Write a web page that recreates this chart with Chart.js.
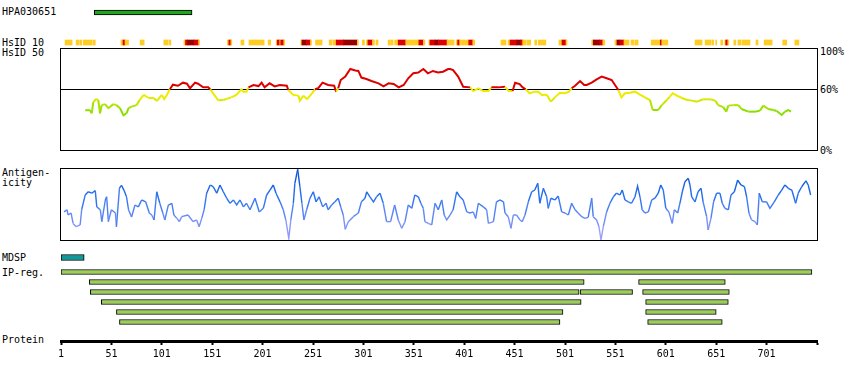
<!DOCTYPE html>
<html>
<head>
<meta charset="utf-8">
<script src="https://cdn.jsdelivr.net/npm/chart.js@4.4.1/dist/chart.umd.min.js"></script>
<style>
  html, body { margin: 0; padding: 0; background: #fff; }
  #wrap { position: relative; width: 850px; height: 380px; overflow: hidden; }
  #wrap canvas { position: absolute; left: 0; }
  .lbl { position: absolute; font: 10px "DejaVu Sans Mono", monospace; line-height: 12px; color: #000; white-space: pre; }
</style>
</head>
<body>
<div id="wrap"></div>
<script>
// residue axis
const RES_MIN = 1;
const RES_MAX = 751;
const tickVals = [1, 51, 101, 151, 201, 251, 301, 351, 401, 451, 501, 551, 601, 651, 701, 751];
const tickLabels = ['1', '51', '101', '151', '201', '251', '301', '351', '401', '451', '501', '551', '601', '651', '701', ''];

// antigen / signal peptide / InterPro regions (residue ranges)
const hpaRange = [34, 131];
const mdspRange = [1, 24];
const ipRows = ['r1', 'r2', 'r3', 'r4', 'r5', 'r6'];
const ipSegA = [[1, 746], [29, 520], [30, 515], [41, 517], [56, 499], [59, 496]];
const ipSegB = [null, null, [516, 568], null, null, null];
const ipSegC = [null, [574, 660], [578, 664], [581, 663], [581, 651], [583, 657]];

// HsID 10 strip: start, end, level (0 yellow, 1 red, 2 dark red)
const hsidStart = [5, 16, 19.5, 23, 33, 60.5, 62.5, 64.5, 79.5, 103, 108, 123, 124.5, 126.5, 133, 137.5,
  166, 167.5, 169.5, 179.5, 187.5, 206.5, 214.5, 215.5, 218, 219, 222, 239, 240, 244.5, 248.5, 253.5,
  267, 271, 274, 281.5, 295, 300, 304, 305.5, 310, 313.5, 325.5, 328, 332, 335.5, 343, 356, 360.5,
  366, 367, 372, 375.5, 384, 393, 394.5, 396.5, 405.5, 409.5, 437.5, 444.5, 446.5, 453, 457, 459, 463.5,
  471, 474.5, 495, 498, 502, 527.5, 529, 535.5, 538.5, 550.5, 552.5, 555.5, 559.5, 566.5, 570.5,
  586.5, 595.5, 597, 630, 640, 647, 650.5, 655.5, 659.5, 660.5, 662.5, 668.5, 672.5, 676.5, 690.5,
  698.5, 717, 729];
const hsidEnd = [12, 18.5, 21.5, 32, 35, 62.5, 64.5, 68, 83.5, 107, 110, 124.5, 126.5, 133, 137.5, 138.5,
  167.5, 169.5, 170.5, 182.5, 202.5, 209, 215.5, 218, 219, 222, 223, 240, 244.5, 248.5, 249.5, 260,
  270, 274, 281.5, 295, 296, 302, 305.5, 310, 312, 315.5, 327.5, 330.5, 335.5, 343, 356, 360.5, 362,
  367, 372, 375.5, 384, 391, 394.5, 396.5, 405.5, 409.5, 411.5, 442.5, 446.5, 453, 457, 459, 462.5, 467,
  473, 482, 498, 502, 503, 529, 535.5, 538.5, 540.5, 552.5, 555.5, 559.5, 564.5, 569.5, 573.5,
  595.5, 597, 603, 637, 646, 648.5, 651.5, 657.5, 660.5, 662.5, 663.5, 670.5, 675.5, 684.5, 692.5,
  706.5, 721, 733];
const hsidLevel = [0, 0, 0, 0, 0, 0, 1, 0, 0, 0, 0, 0, 1, 2, 1, 0,
  0, 1, 0, 0, 0, 0, 0, 1, 0, 1, 0, 0, 2, 1, 0, 0,
  0, 0, 1, 2, 0, 0, 0, 1, 0, 0, 0, 0, 0, 1, 0, 1, 0,
  0, 1, 2, 1, 0, 0, 1, 0, 1, 0, 0, 0, 1, 2, 1, 0, 0,
  0, 0, 0, 1, 0, 0, 2, 1, 0, 0, 2, 1, 0, 0, 0,
  0, 1, 0, 0, 0, 0, 0, 0, 0, 1, 0, 0, 0, 0, 0,
  0, 0, 0];
const hsidColors = ['#ffcc22', '#dd0000', '#990000'];

// HsID 50 conservation, [residue, percent]
const consPoints = [[25, 39], [30, 39], [31.5, 36], [33, 47], [36, 50], [38, 49], [39.7, 36], [41.4, 44],
  [44.7, 45], [48, 41], [53, 45], [56, 44], [59.5, 41], [63, 34], [66, 36], [68, 41], [71, 42.5], [76, 44],
  [79, 49], [83, 54], [88, 51], [93, 51], [96, 48], [101, 54], [103.5, 50], [106, 54], [109, 59.5], [112, 64],
  [117, 63], [122, 66], [126, 65], [129, 60.5], [134, 66], [137, 65], [142, 61.5], [147, 61.5], [149, 59.5],
  [152, 55.5], [157, 48.7], [162, 49], [165, 50], [170, 51.6], [175, 54], [180, 59.5], [182, 57], [185, 57],
  [187, 61.4], [192, 63.7], [197, 62.7], [200, 66], [203, 61.4], [208, 65.4], [213, 62.4], [218, 63.7],
  [225, 63], [226.5, 58.8], [231.5, 54], [236.5, 53.3], [238, 48.4], [241.5, 53.3], [245, 49.7], [250, 55.6],
  [253, 59.5], [256, 60.5], [260.5, 66], [266, 63.7], [272, 63], [274, 57], [276, 60.5], [278.5, 68.6],
  [283, 72], [288, 79.4], [293, 78], [296, 77.5], [299, 71], [304, 69.6], [309, 67.6], [316, 65.4],
  [321, 62.4], [326, 65.4], [331, 64.7], [336, 61.4], [341, 63.7], [345.5, 70.3], [350.5, 75.2], [355.5, 76],
  [360.5, 79.4], [365, 75.2], [370, 77.5], [375, 76], [380, 76.8], [385, 79.4], [387, 79.4], [390, 78.4],
  [395, 72], [400, 62], [407, 61.4], [410, 57.8], [415, 60.5], [420, 57.8], [425, 57.8], [428, 61.4],
  [435, 61.4], [441.5, 62], [445, 57.8], [449, 57.8], [451.5, 66], [456, 64.7], [459, 61.4], [462, 59.5],
  [466, 55.6], [471, 57.2], [474.5, 57.2], [478, 54], [483, 54.2], [487, 47.4], [491, 51.6], [496, 56.2],
  [501, 55.6], [505, 57.2], [507.6, 60.5], [511, 63], [516, 67.6], [520, 63.7], [522.5, 63.7], [527.5, 66],
  [532.4, 69.3], [537.4, 72], [542.3, 70.3], [547.3, 68.6], [550.6, 63.7], [554, 58.8], [557, 51.6],
  [560.5, 55.6], [565.5, 56.2], [570.4, 57.2], [575.4, 54.2], [580.3, 51.6], [585.3, 49], [588, 39.2],
  [593.5, 39.2], [597, 44], [602, 49], [605, 52.3], [608, 55.6], [612, 53.3], [617, 51], [622, 49],
  [627, 48.4], [632, 47.4], [638, 49.7], [645, 49.7], [650, 48.4], [653, 44], [658, 42], [661, 37.6],
  [663, 43.5], [668, 44], [673, 44], [676, 40.2], [683, 37.6], [689.5, 37.6], [694.4, 38.6], [697.7, 43.5],
  [702.6, 40.2], [707.6, 39.2], [711, 38.2], [716, 34.3], [719.2, 37.6], [722.5, 39.2], [725.2, 37.6]];

// Antigenicity, [residue, relative score 0-100]
const antigenPoints = [[4, 39], [7, 42], [8, 35], [11, 37.5], [13, 23], [16, 18.5], [20, 21], [21.5, 42],
  [25, 62.5], [28, 67], [31.5, 65], [35, 68.5], [36.5, 46], [40, 42], [41.5, 25.5], [45, 55.6], [46.3, 60],
  [48, 25.5], [51, 42], [55, 37.5], [56, 18.5], [59, 72], [61, 76], [63.5, 69], [66, 60], [68, 42], [71, 32],
  [74.4, 48.6], [77.7, 46], [81, 55.6], [85, 53], [88.6, 37.5], [91, 34.7], [93.3, 27.8], [96, 67], [99, 51],
  [102, 37.5], [104, 27.8], [107.5, 48.6], [111, 51], [113, 34.7], [116, 30], [118.4, 25.5], [120.7, 32.4],
  [127, 34.7], [132, 25.5], [135.6, 27.8], [138, 18.5], [140.6, 30], [143, 42], [145.5, 65], [149, 76.4],
  [152, 74], [155.5, 65], [158.7, 76.4], [162, 67], [165.4, 58], [168.7, 51], [172, 55.6], [175.3, 48.6],
  [178.6, 55.6], [182, 46], [185, 51], [188.5, 42], [193.5, 58], [197.7, 39], [201.7, 44], [205, 62.5],
  [208.3, 69.4], [211.6, 76.4], [214.3, 65], [218.3, 53], [221.5, 42], [224, 28], [227, 2.3], [229, 28],
  [231.5, 51], [233, 78.7], [235.8, 98], [238, 74], [240, 51], [242, 28], [244.7, 42], [248, 58], [251.3, 67],
  [254, 53], [257, 60], [260.6, 46], [264, 51], [266, 42], [269.5, 48.6], [272.8, 53], [276, 58], [278.5, 46],
  [281, 34.7], [283, 14.8], [286, 25.5], [291, 32.4], [296, 37.5], [299, 53], [302.6, 58], [304.3, 67],
  [307.5, 60], [311, 53], [314, 60], [317.5, 65], [320.7, 51], [324, 25.5], [328, 25.5], [332, 48.6],
  [335.6, 27.8], [339, 16.2], [342.3, 25.5], [345.5, 48.6], [349, 44], [352, 62.5], [355.5, 60], [358, 51],
  [360.4, 44], [362, 25.5], [365.4, 23], [368.8, 21], [372, 51], [375.3, 42], [378.7, 55.6], [381.2, 34.7],
  [383.6, 27.8], [387, 34.7], [390, 42], [393.5, 67], [396.8, 60], [400, 55.6], [403.5, 39], [406.7, 37.5],
  [410, 39], [412.4, 30], [415, 51], [420, 46], [423.3, 42], [425, 23], [430, 25.5], [433, 53], [436.5, 55.6],
  [440, 53], [441.5, 37.5], [444.7, 32.4], [447.4, 16.2], [449.7, 34.7], [453, 34.7], [456.3, 27.8],
  [458.6, 25.5], [461.3, 34.7], [464.6, 53], [468, 67], [471, 69.4], [474, 78.7], [476, 51], [479.5, 71.8],
  [482.8, 60], [484.4, 44], [487, 58], [491, 55.6], [494.3, 61], [497.7, 39], [501, 37.5], [504.3, 34.7],
  [507.6, 51], [511, 42], [514, 37.5], [517.6, 32.4], [520.8, 30], [524, 31.5], [527.5, 58], [529, 32.4],
  [532.4, 27.8], [534.7, 18.5], [536.7, 0], [539, 18.5], [542.3, 39], [545.6, 51], [549, 60], [552, 65],
  [555.5, 62.5], [557.8, 69.4], [560.5, 55.6], [563.8, 53], [567, 51], [570.4, 60], [573, 75], [575.4, 60],
  [577.6, 42], [580.3, 37.5], [583.7, 39], [587, 55.6], [590.3, 58], [593.5, 65], [596, 76.4], [598.5, 69.4],
  [601, 44], [604, 39], [607.4, 23], [609.4, 42], [612.8, 37.5], [615, 51], [617.4, 67], [620, 81],
  [623.3, 85.6], [625, 76.4], [626.7, 60], [630, 53], [633, 67], [636, 71.8], [638, 53], [641.5, 32.4],
  [643, 13.9], [645.8, 30], [648.4, 53], [651.4, 65], [654.7, 65], [657, 51], [659.7, 44], [663, 42],
  [665.7, 62.5], [669, 67], [672.3, 83.3], [675.6, 76.4], [679, 74], [681.2, 60], [683.5, 37.5], [686, 28],
  [689.5, 25.5], [691.8, 21], [693.7, 65], [696.7, 53], [701, 53], [704.3, 44], [708.6, 53], [712.6, 62.5],
  [716, 69.4], [719.2, 76.4], [722.5, 71.8], [726, 69.4], [729.8, 51], [732.4, 65], [735.8, 74], [740, 82],
  [742.3, 76.4], [744.7, 62.5]];

// left / right labels
const textLabels = [
  ['HPA030651', 2, 12.3], ['HsID 10', 2, 42.7], ['HsID 50', 2, 52.7],
  ['Antigen-', 2, 172.7], ['icity', 2, 182.5], ['MDSP', 2, 257.5],
  ['IP-reg.', 2, 272.7], ['Protein', 2, 339.5],
  ['100%', 820, 52], ['60%', 820, 90], ['0%', 820, 150.5]
];

const FONT = '"DejaVu Sans Mono", monospace';
const wrap = document.getElementById('wrap');

textLabels.forEach(function (t) {
  const d = document.createElement('div');
  d.className = 'lbl';
  d.textContent = t[0];
  d.style.left = t[1] + 'px';
  d.style.top = (t[2] - 6) + 'px';
  wrap.appendChild(d);
});

function addCanvas(top, height) {
  const c = document.createElement('canvas');
  c.width = 850;
  c.height = height;
  c.style.top = top + 'px';
  c.style.width = '850px';
  c.style.height = height + 'px';
  wrap.appendChild(c);
  return c;
}

function pad(t, b) {
  return { left: 61, right: 33, top: t, bottom: b };
}

const xHidden = { type: 'linear', min: RES_MIN, max: RES_MAX, display: false };

function mix(a, b, t) {
  return 'rgb(' + a.map(function (v, i) { return Math.round(v + (b[i] - v) * t); }).join(',') + ')';
}

function consColor(v) {
  if (v >= 60) return '#dd0000';
  const t = Math.max(0, Math.min(1, (52 - v) / 14));
  return mix([236, 236, 0], [136, 222, 0], t);
}

const AG_STOPS = [[0, [182, 166, 255]], [30, [108, 140, 246]], [60, [36, 112, 240]], [100, [10, 78, 206]]];
function agColor(v) {
  for (let i = 1; i < AG_STOPS.length; i++) {
    if (v <= AG_STOPS[i][0]) {
      const a = AG_STOPS[i - 1], b = AG_STOPS[i];
      return mix(a[1], b[1], (v - a[0]) / (b[0] - a[0]));
    }
  }
  return mix(AG_STOPS[3][1], AG_STOPS[3][1], 0);
}

const framePlugin = {
  id: 'frame',
  beforeDatasetsDraw: function (chart, args, opts) {
    const ctx = chart.ctx, a = chart.chartArea;
    ctx.save();
    ctx.strokeStyle = '#000';
    ctx.lineWidth = 1;
    ctx.strokeRect(a.left - 0.5, a.top + 0.5, a.right - a.left + 1, a.bottom - a.top);
    if (opts.refLine != null) {
      const y = Math.round(chart.scales.y.getPixelForValue(opts.refLine)) + 0.5;
      ctx.beginPath();
      ctx.moveTo(a.left - 0.5, y);
      ctx.lineTo(a.right + 0.5, y);
      ctx.stroke();
    }
    ctx.restore();
  }
};

function barChart(top, height, labels, datasets) {
  return new Chart(addCanvas(top, height), {
    type: 'bar',
    data: { labels: labels, datasets: datasets },
    options: {
      indexAxis: 'y',
      responsive: false,
      animation: false,
      devicePixelRatio: 1,
      layout: { padding: pad(0, 0) },
      plugins: { legend: { display: false }, tooltip: { enabled: false } },
      scales: { x: xHidden, y: { display: false } }
    }
  });
}

function boxBar(data, color, thickness) {
  return {
    data: data,
    backgroundColor: color,
    borderColor: '#000',
    borderWidth: 1,
    borderSkipped: false,
    barThickness: thickness,
    grouped: false
  };
}

// antibody bar
barChart(7, 11, ['HPA030651'], [boxBar([hpaRange], '#22a322', 5)]);

// HsID 10 strip
barChart(38, 9, ['HsID 10'], [{
  data: hsidStart.map(function (s, i) { return { x: [s, hsidEnd[i]], y: 'HsID 10' }; }),
  backgroundColor: hsidLevel.map(function (l) { return hsidColors[l]; }),
  borderWidth: 0,
  barThickness: 5,
  grouped: false
}]);

function lineChart(top, height, padT, padB, points, colorFn, width, refLine) {
  return new Chart(addCanvas(top, height), {
    type: 'line',
    data: {
      datasets: [{
        data: points.map(function (p) { return { x: p[0], y: p[1] }; }),
        borderColor: colorFn(50),
        borderWidth: width,
        pointRadius: 0,
        tension: 0,
        segment: {
          borderColor: function (c) { return colorFn((c.p0.parsed.y + c.p1.parsed.y) / 2); }
        }
      }]
    },
    plugins: [framePlugin],
    options: {
      responsive: false,
      animation: false,
      devicePixelRatio: 1,
      layout: { padding: pad(padT, padB) },
      plugins: { legend: { display: false }, tooltip: { enabled: false }, frame: { refLine: refLine } },
      scales: {
        x: xHidden,
        y: { type: 'linear', min: 0, max: 100, display: false }
      }
    }
  });
}

// HsID 50 conservation
lineChart(40, 120, 8, 10, consPoints, consColor, 2, 60);

// antigenicity
lineChart(160, 90, 8, 10, antigenPoints, agColor, 1.4, null);

// signal peptide
barChart(252, 11, ['MDSP'], [boxBar([mdspRange], '#119999', 6)]);

// InterPro regions
barChart(267, 60, ipRows, [
  boxBar(ipSegA, '#9ccc5a', 5),
  boxBar(ipSegB, '#9ccc5a', 5),
  boxBar(ipSegC, '#9ccc5a', 5)
]);

// protein residue axis
new Chart(addCanvas(321, 50), {
  type: 'line',
  data: { datasets: [] },
  options: {
    responsive: false,
    animation: false,
    devicePixelRatio: 1,
    layout: { padding: pad(0, 0) },
    plugins: { legend: { display: false }, tooltip: { enabled: false } },
    scales: {
      x: {
        type: 'linear',
        min: RES_MIN,
        max: RES_MAX,
        position: 'bottom',
        afterBuildTicks: function (s) { s.ticks = tickVals.map(function (v) { return { value: v }; }); },
        afterFit: function (s) { s.height = 30; },
        grid: { display: true, drawOnChartArea: false, drawTicks: true, tickLength: 4, tickWidth: 2, tickColor: '#000', color: '#000' },
        border: { display: true, color: '#000', width: 3 },
        ticks: {
          autoSkip: false,
          maxRotation: 0,
          padding: 3,
          color: '#000',
          font: { family: FONT, size: 10 },
          callback: function (v, i) { return tickLabels[i]; }
        }
      },
      y: { display: false }
    }
  }
});
</script>
</body>
</html>
